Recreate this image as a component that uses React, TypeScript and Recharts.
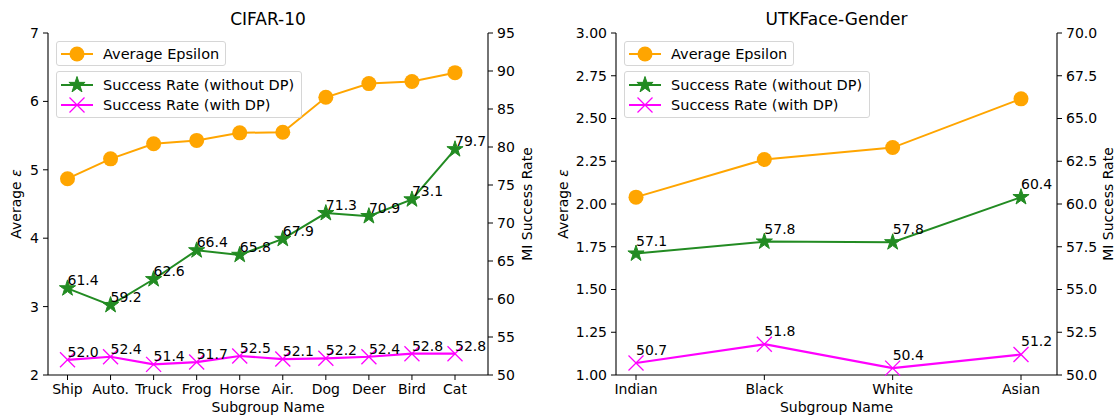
import { LineChart, Line, XAxis, YAxis } from 'recharts'

const cifarGroups = ['Ship', 'Auto.', 'Truck', 'Frog', 'Horse', 'Air.', 'Dog', 'Deer', 'Bird', 'Cat']
const cifarEpsilon = [4.87, 5.16, 5.38, 5.43, 5.54, 5.55, 6.06, 6.26, 6.29, 6.42]
const cifarNoDp = [61.4, 59.2, 62.6, 66.4, 65.8, 67.9, 71.3, 70.9, 73.1, 79.7]
const cifarDp = [52.0, 52.4, 51.4, 51.7, 52.5, 52.1, 52.2, 52.4, 52.8, 52.8]

const utkGroups = ['Indian', 'Black', 'White', 'Asian']
const utkEpsilon = [2.04, 2.26, 2.33, 2.615]
const utkNoDp = [57.1, 57.8, 57.76, 60.4]
const utkDp = [50.7, 51.8, 50.4, 51.2]

const cifarEpsTicks = [2, 3, 4, 5, 6, 7]
const cifarRateTicks = [50, 55, 60, 65, 70, 75, 80, 85, 90, 95]
const utkEpsTicks = [1, 1.25, 1.5, 1.75, 2, 2.25, 2.5, 2.75, 3]
const utkRateTicks = [50, 52.5, 55, 57.5, 60, 62.5, 65, 67.5, 70]

const FONT = '"DejaVu Sans", Verdana, sans-serif'
const ORANGE = '#FFA500'
const GREEN = '#228B22'
const MAGENTA = '#FF00FF'

function starPoints(cx: number, cy: number, R: number) {
  const pts: string[] = []
  for (let i = 0; i < 10; i++) {
    const r = i % 2 === 0 ? R : R * 0.382
    const a = -Math.PI / 2 + (i * Math.PI) / 5
    pts.push(`${cx + r * Math.cos(a)},${cy + r * Math.sin(a)}`)
  }
  return pts.join(' ')
}

function Marker({ kind, cx, cy }: { kind: string; cx: number; cy: number }) {
  if (kind === 'circle') return <circle cx={cx} cy={cy} r={7.5} fill={ORANGE} />
  if (kind === 'star')
    return <polygon points={starPoints(cx, cy, 8.5)} fill={GREEN} stroke={GREEN} strokeWidth={1} />
  const s = 7.5
  return (
    <g stroke={MAGENTA} strokeWidth={1.3}>
      <line x1={cx - s} y1={cy - s} x2={cx + s} y2={cy + s} />
      <line x1={cx - s} y1={cy + s} x2={cx + s} y2={cy - s} />
    </g>
  )
}

const makeDot = (kind: string) => (p: any) => (
  <Marker key={`${kind}-${p.index}`} kind={kind} cx={p.cx} cy={p.cy} />
)

const makeLabel = (dy: number) => (p: any) => (
  <text
    key={`lbl-${p.index}`}
    x={p.x}
    y={p.y - dy}
    fontSize={14}
    fontFamily={FONT}
    fill="#000"
    textAnchor="start"
  >
    {Number(p.value).toFixed(1)}
  </text>
)

const rotLabel = (text: any, x: number) => (p: any) => {
  const vb = p.viewBox
  const cy = vb.y + vb.height / 2
  return (
    <text
      x={x}
      y={cy}
      dy="0.35em"
      textAnchor="middle"
      transform={`rotate(-90, ${x}, ${cy})`}
      fontSize={14}
      fontFamily={FONT}
      fill="#000"
    >
      {text}
    </text>
  )
}

const xLabel = (p: any) => {
  const vb = p.viewBox
  return (
    <text
      x={vb.x + vb.width / 2}
      y={vb.y + 37}
      textAnchor="middle"
      fontSize={14}
      fontFamily={FONT}
      fill="#000"
    >
      Subgroup Name
    </text>
  )
}

function LegendBox({ left, top, width, height, rows }: any) {
  return (
    <div
      style={{
        position: 'absolute',
        left,
        top,
        width,
        height,
        boxSizing: 'border-box',
        border: '1px solid #d6d6d6',
        borderRadius: 3,
        background: 'rgba(255,255,255,0.85)',
        fontFamily: FONT,
        fontSize: 14.5,
      }}
    >
      {rows.map((r: any) => (
        <div key={r.label}>
          <svg
            width={32}
            height={20}
            style={{ position: 'absolute', left: 4, top: r.y - 10, overflow: 'visible' }}
          >
            <line
              x1={0}
              y1={10}
              x2={32}
              y2={10}
              stroke={r.kind === 'circle' ? ORANGE : r.kind === 'star' ? GREEN : MAGENTA}
              strokeWidth={2}
            />
            <Marker kind={r.kind} cx={16} cy={10} />
          </svg>
          <span
            style={{
              position: 'absolute',
              left: 46,
              top: r.y - 9,
              lineHeight: '18px',
              whiteSpace: 'nowrap',
              color: '#000',
            }}
          >
            {r.label}
          </span>
        </div>
      ))}
    </div>
  )
}

function Panel(props: any) {
  const {
    title,
    groups,
    eps,
    noDp,
    dp,
    epsTicks,
    rateTicks,
    epsFmt,
    rateFmt,
    left,
    width,
    leftW,
    rightW,
    padding,
    labelDy,
    epsLabelX,
    rateLabelX,
  } = props
  const data = groups.map((g: string, i: number) => ({
    name: g,
    eps: eps[i],
    noDp: noDp[i],
    dp: dp[i],
  }))
  const plotLeft = leftW
  const plotRight = width - rightW
  const tick = { fill: '#000', fontSize: 14, fontFamily: FONT }
  return (
    <div style={{ position: 'absolute', left, top: 0, width, height: 416 }}>
      <div
        style={{
          position: 'absolute',
          left: plotLeft,
          width: plotRight - plotLeft,
          top: 11,
          textAlign: 'center',
          fontFamily: FONT,
          fontSize: 17,
          lineHeight: '17px',
          color: '#000',
        }}
      >
        {title}
      </div>
      <LineChart width={width} height={416} data={data} margin={{ top: 33, right: 0, bottom: 0, left: 0 }}>
        <XAxis
          dataKey="name"
          height={41}
          padding={padding}
          interval={0}
          tick={tick}
          tickSize={5}
          tickMargin={4}
          axisLine={{ stroke: '#000', strokeWidth: 1.1 }}
          tickLine={{ stroke: '#000' }}
          label={xLabel}
        />
        <XAxis
          xAxisId="top"
          dataKey="name"
          orientation="top"
          height={0}
          tick={false}
          tickLine={false}
          axisLine={{ stroke: '#000', strokeWidth: 1.1 }}
        />
        <YAxis
          yAxisId="eps"
          width={leftW}
          domain={[epsTicks[0], epsTicks[epsTicks.length - 1]]}
          ticks={epsTicks}
          tickFormatter={epsFmt}
          tick={tick}
          tickSize={5}
          tickMargin={4}
          axisLine={{ stroke: '#000', strokeWidth: 1.1 }}
          tickLine={{ stroke: '#000' }}
          label={rotLabel(
            <>
              Average <tspan fontStyle="italic">ε</tspan>
            </>,
            epsLabelX
          )}
        />
        <YAxis
          yAxisId="rate"
          orientation="right"
          width={rightW}
          domain={[rateTicks[0], rateTicks[rateTicks.length - 1]]}
          ticks={rateTicks}
          tickFormatter={rateFmt}
          tick={tick}
          tickSize={5}
          tickMargin={4}
          axisLine={{ stroke: '#000', strokeWidth: 1.1 }}
          tickLine={{ stroke: '#000' }}
          label={rotLabel('MI Success Rate', rateLabelX)}
        />
        <Line
          yAxisId="eps"
          dataKey="eps"
          type="linear"
          stroke={ORANGE}
          strokeWidth={2}
          dot={makeDot('circle')}
          isAnimationActive={false}
        />
        <Line
          yAxisId="rate"
          dataKey="noDp"
          type="linear"
          stroke={GREEN}
          strokeWidth={2}
          dot={makeDot('star')}
          label={makeLabel(labelDy)}
          isAnimationActive={false}
        />
        <Line
          yAxisId="rate"
          dataKey="dp"
          type="linear"
          stroke={MAGENTA}
          strokeWidth={2.2}
          dot={makeDot('cross')}
          label={makeLabel(labelDy)}
          isAnimationActive={false}
        />
      </LineChart>
      <LegendBox
        left={plotLeft + 8}
        top={41}
        width={170}
        height={25}
        rows={[{ label: 'Average Epsilon', kind: 'circle', y: 12 }]}
      />
      <LegendBox
        left={plotLeft + 8}
        top={71}
        width={246}
        height={47}
        rows={[
          { label: 'Success Rate (without DP)', kind: 'star', y: 12.5 },
          { label: 'Success Rate (with DP)', kind: 'cross', y: 33 },
        ]}
      />
    </div>
  )
}

export default function App() {
  return (
    <div
      style={{
        position: 'absolute',
        left: 0,
        top: 0,
        width: 1115,
        height: 416,
        background: '#fff',
        overflow: 'hidden',
      }}
    >
      <Panel
        title="CIFAR-10"
        groups={cifarGroups}
        eps={cifarEpsilon}
        noDp={cifarNoDp}
        dp={cifarDp}
        epsTicks={cifarEpsTicks}
        rateTicks={cifarRateTicks}
        epsFmt={(v: number) => String(v)}
        rateFmt={(v: number) => String(v)}
        left={0}
        width={560}
        leftW={48}
        rightW={72}
        padding={{ left: 19.5, right: 33 }}
        labelDy={3}
        epsLabelX={16}
        rateLabelX={527}
      />
      <Panel
        title="UTKFace-Gender"
        groups={utkGroups}
        eps={utkEpsilon}
        noDp={utkNoDp}
        dp={utkDp}
        epsTicks={utkEpsTicks}
        rateTicks={utkRateTicks}
        epsFmt={(v: number) => v.toFixed(2)}
        rateFmt={(v: number) => v.toFixed(1)}
        left={550}
        width={565}
        leftW={66}
        rightW={58}
        padding={{ left: 20, right: 36 }}
        labelDy={8}
        epsLabelX={13}
        rateLabelX={558}
      />
    </div>
  )
}
